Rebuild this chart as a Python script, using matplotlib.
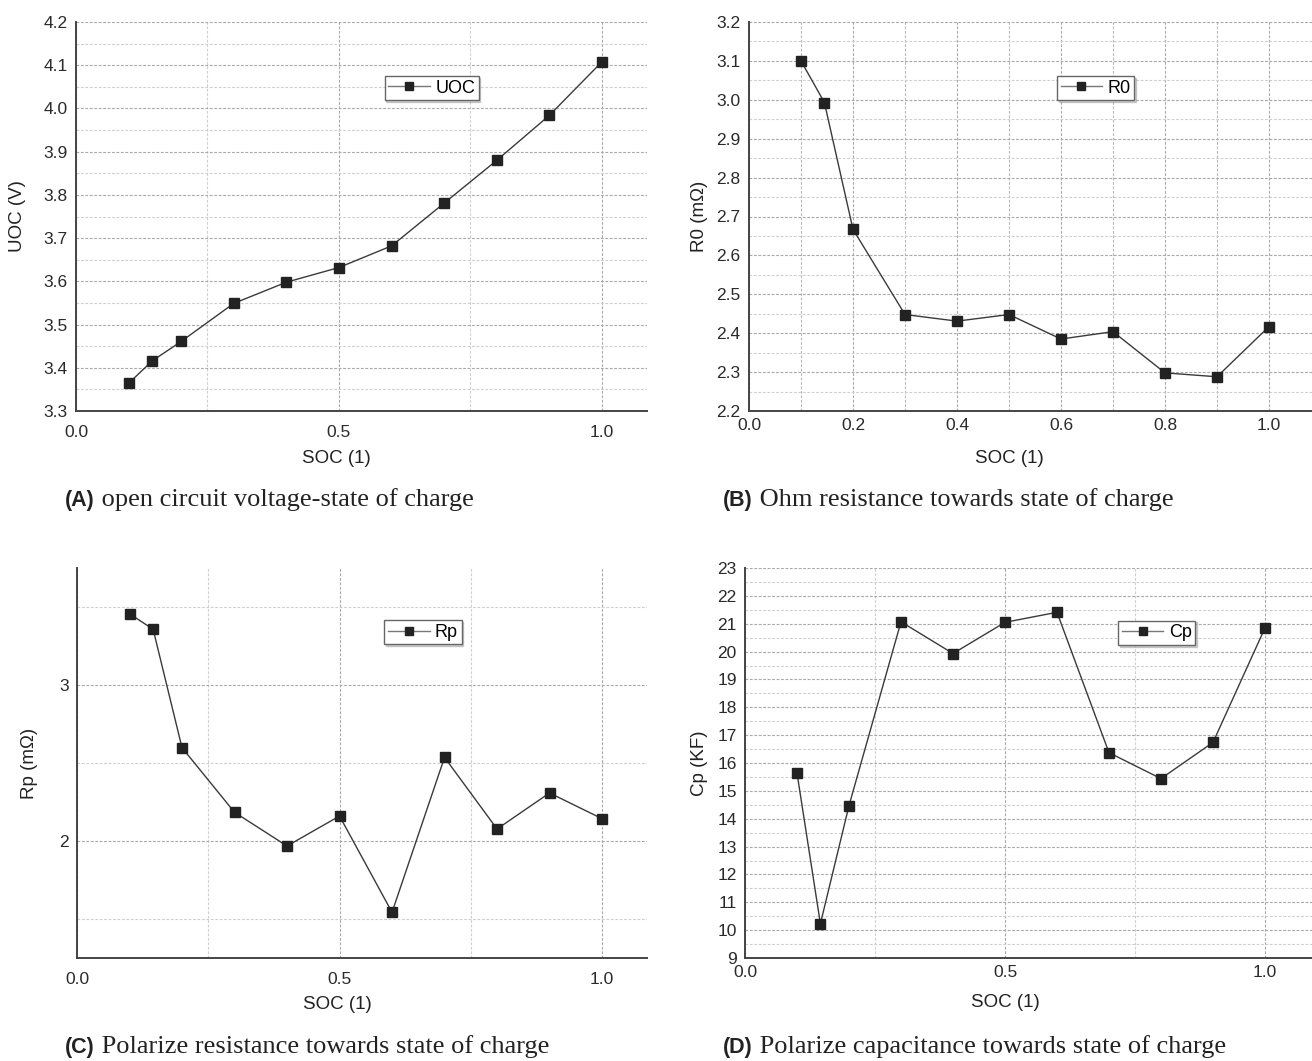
import numpy as np
import matplotlib
matplotlib.use("Agg")
import matplotlib.pyplot as plt
from matplotlib.ticker import FixedLocator, FormatStrFormatter
from matplotlib.text import Annotation

# state of charge sample points (shared by all four curves)
soc = [0.1, 0.145, 0.2, 0.3, 0.4, 0.5, 0.6, 0.7, 0.8, 0.9, 1.0]

uoc = [3.364, 3.416, 3.461, 3.549, 3.598, 3.632, 3.682, 3.781, 3.880, 3.984, 4.108]
r0 = [3.100, 2.993, 2.667, 2.448, 2.431, 2.448, 2.385, 2.404, 2.298, 2.288, 2.417]
rp = [3.457, 3.357, 2.598, 2.184, 1.968, 2.160, 1.543, 2.536, 2.077, 2.308, 2.143]
cp = [15.64, 10.23, 14.47, 21.07, 19.93, 21.05, 21.41, 16.37, 15.44, 16.74, 20.85]

captions = [
    ("(A)", " open circuit voltage-state of charge"),
    ("(B)", " Ohm resistance towards state of charge"),
    ("(C)", " Polarize resistance towards state of charge"),
    ("(D)", " Polarize capacitance towards state of charge"),
]

plt.rcParams['font.family'] = ['Liberation Sans', 'DejaVu Sans']

W, H = 1312, 1061
fig = plt.figure(figsize=(W / 100, H / 100), dpi=100)


def px_axes(left, top, width, height):
    return fig.add_axes([left / W, 1 - (top + height) / H, width / W, height / H])


def style_axes(ax, xmax, ylim, xmajor, xminor, ymajor, yminor, xpad):
    ax.set_xlim(0, xmax)
    ax.set_ylim(*ylim)
    ax.xaxis.set_major_locator(FixedLocator(xmajor))
    ax.xaxis.set_minor_locator(FixedLocator(xminor))
    ax.yaxis.set_major_locator(FixedLocator(ymajor))
    ax.yaxis.set_minor_locator(FixedLocator(yminor))
    for side in ("top", "right"):
        ax.spines[side].set_visible(False)
    for side in ("left", "bottom"):
        ax.spines[side].set_color("#444444")
        ax.spines[side].set_linewidth(1.4)
    ax.tick_params(which="both", length=0, labelsize=12.5, colors="#2a2a2a")
    ax.tick_params(axis="x", pad=xpad)
    ax.tick_params(axis="y", pad=6)
    ax.grid(which="major", axis="both", color="#a8a8a8", linestyle=(0, (2.5, 1.5)), linewidth=0.8)
    ax.grid(which="minor", axis="both", color="#cfcfcf", linestyle=(0, (2.5, 1.5)), linewidth=0.8)
    ax.set_axisbelow(True)


def draw_curve(ax, y, name):
    ax.plot(soc, y, color="#3a3a3a", linewidth=1.0, marker="s", markersize=7,
            markerfacecolor="#222222", markeredgecolor="#222222", label=name, zorder=3)


def draw_legend(ax, loc):
    leg = ax.legend(loc="center", bbox_to_anchor=loc, fontsize=13, frameon=True,
                    fancybox=False, shadow={"ox": 1.2, "oy": -1.2, "color": "#a0a0a0"},
                    handlelength=2.3, handletextpad=0.3,
                    borderpad=0.2, borderaxespad=0)
    leg.get_frame().set_edgecolor("#666666")
    leg.get_frame().set_linewidth(1.0)
    for h in leg.get_lines():
        h.set_color("#777777")
        h.set_markersize(5.5)
        h.set_markerfacecolor("#222222")
        h.set_markeredgecolor("#222222")


def set_labels(ax, ylabel, ylx, xly):
    ax.set_xlabel("SOC (1)", fontsize=13.5, color="#222222", va="center")
    ax.xaxis.set_label_coords(0.456, xly)
    ax.set_ylabel(ylabel, fontsize=13.5, color="#222222", va="center")
    ax.yaxis.set_label_coords(ylx, 0.5)


# (A) open circuit voltage
ax_a = px_axes(76, 22, 571, 389)
style_axes(ax_a, 1.0856, (3.3, 4.2), [0, 0.5, 1.0], [0.25, 0.75],
           np.round(np.arange(3.3, 4.21, 0.1), 2), np.round(np.arange(3.35, 4.2, 0.1), 2), 10)
ax_a.yaxis.set_major_formatter(FormatStrFormatter("%.1f"))
ax_a.xaxis.set_major_formatter(FormatStrFormatter("%.1f"))
draw_curve(ax_a, uoc, "UOC")
draw_legend(ax_a, (0.623, 0.83))
set_labels(ax_a, "UOC (V)", -0.102, -0.121)

# (B) ohmic resistance
ax_b = px_axes(749, 22, 572, 389)
style_axes(ax_b, 1.1, (2.2, 3.2), np.round(np.arange(0, 1.01, 0.2), 1),
           np.round(np.arange(0.1, 1.01, 0.2), 1),
           np.round(np.arange(2.2, 3.21, 0.1), 2), np.round(np.arange(2.25, 3.2, 0.1), 2), 5)
ax_b.grid(which="minor", axis="x", color="#b8b8b8", linestyle=(0, (2.5, 1.5)), linewidth=0.8)
ax_b.yaxis.set_major_formatter(FormatStrFormatter("%.1f"))
ax_b.xaxis.set_major_formatter(FormatStrFormatter("%.1f"))
draw_curve(ax_b, r0, "R0")
draw_legend(ax_b, (0.606, 0.83))
set_labels(ax_b, "R0 (mΩ)", -0.086, -0.121)

# (C) polarization resistance
ax_c = px_axes(77, 568, 570, 390)
style_axes(ax_c, 1.0856, (1.25, 3.75), [0, 0.5, 1.0], [0.25, 0.75],
           [2, 3], [1.5, 2.5, 3.5], 10)
ax_c.xaxis.set_major_formatter(FormatStrFormatter("%.1f"))
ax_c.yaxis.set_major_formatter(FormatStrFormatter("%d"))
draw_curve(ax_c, rp, "Rp")
draw_legend(ax_c, (0.607, 0.835))
set_labels(ax_c, "Rp (mΩ)", -0.083, -0.12)

# (D) polarization capacitance
ax_d = px_axes(745, 568, 572, 390)
style_axes(ax_d, 1.1, (9, 23), [0, 0.5, 1.0], [0.25, 0.75],
           np.arange(9, 24), np.arange(9.5, 23, 1.0), 5)
ax_d.xaxis.set_major_formatter(FormatStrFormatter("%.1f"))
draw_curve(ax_d, cp, "Cp")
draw_legend(ax_d, (0.72, 0.834))
set_labels(ax_d, "Cp (KF)", -0.079, -0.115)

# captions under each panel: bold sans tag followed by serif text
for (tag, text), (x, y) in zip(captions, [(65, 500), (723, 500), (65, 1048), (723, 1048)]):
    t = fig.text(x / W, 1 - y / H, tag, fontsize=15.5, fontweight="bold",
                 family=["Liberation Sans", "DejaVu Sans"], va="center", color="#222222")
    fig.add_artist(Annotation(
        text, xy=(1, 0), xycoords=t, xytext=(0, 0), textcoords="offset points",
        fontsize=19, family=["Liberation Serif", "DejaVu Serif"], color="#222222",
        va="bottom", ha="left"))

fig.savefig("out.png", dpi=100)
